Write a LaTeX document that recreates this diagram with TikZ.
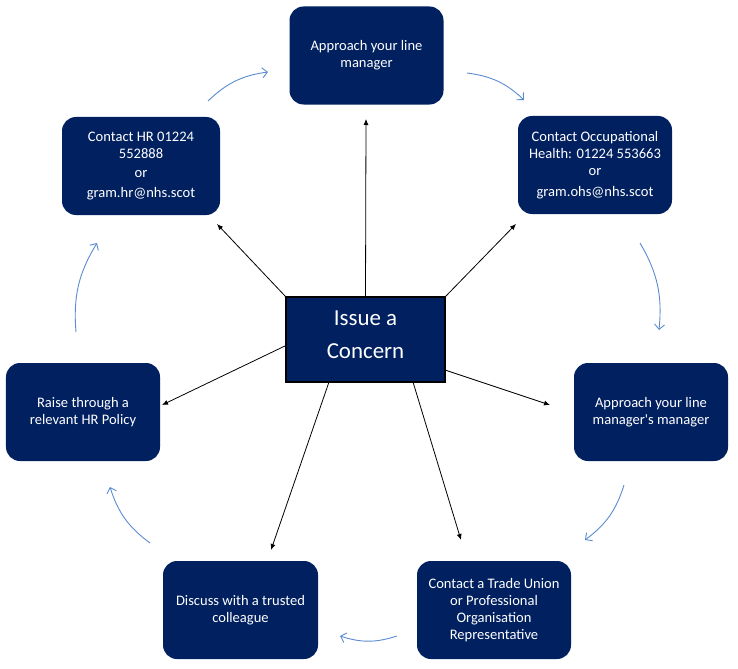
\documentclass[tikz,border=0pt]{standalone}
\usepackage{fontspec}
\setmainfont{Carlito}
\usetikzlibrary{arrows.meta}
\definecolor{navy}{HTML}{002060}
\definecolor{cyc}{HTML}{5B8BD0}
\begin{document}
\begin{tikzpicture}[x=1bp,y=-1bp,
  box/.style={fill=navy, rounded corners=14bp, minimum width=154bp, minimum height=98bp,
    text=white, align=center, font=\fontsize{14.6}{17}\selectfont, inner sep=0pt},
  centrebox/.style={fill=navy, draw=black, line width=1.2bp, minimum width=159bp, minimum height=85bp, inner sep=0pt},
  centretext/.style={text=white, align=center, font=\fontsize{23}{33}\selectfont, inner sep=0pt},
  spoke/.style={draw=black, line width=0.8bp, -{Latex[length=6bp,width=5bp]}},
  cycle/.style={draw=cyc, line width=0.9bp, -{Straight Barb[length=5bp,width=10bp]}, bend left=18}]
\useasboundingbox (0,0) rectangle (738,669);

\node[box] (top) at (366.5,55.5) {Approach your line\\manager};
\node[box, minimum width=158bp] (hr) at (141,166) {Contact HR 01224\\552888\\[2bp]or\\[3bp]gram.hr@nhs.scot};
\node[box] (oh) at (595,165) {Contact Occupational\\Health: 01224 553663\\or\\[4bp]gram.ohs@nhs.scot};
\node[box] (mm) at (651,412) {Approach your line\\manager\textquotesingle s manager};
\node[box] (tu) at (494,610) {Contact a Trade Union\\or Professional\\Organisation\\Representative};
\node[box, minimum width=155bp] (dc) at (240.5,610) {Discuss with a trusted\\colleague};
\node[box] (hp) at (83,412) {Raise through a\\relevant HR Policy};
\node[centrebox] (c) at (365.5,339.5) {};
\node[centretext] (ct) at (365.5,335) {Issue a\\Concern};

% spoke end points
\coordinate (eTop) at (366,119);
\coordinate (eHR) at (217,224);
\coordinate (eOH) at (516,224);
\coordinate (eHP) at (162,405);
\coordinate (eMM) at (550,405);
\coordinate (eDC) at (271,550);
\coordinate (eTU) at (461,540);
\coordinate (sHP) at (287,345);
\coordinate (sMM) at (445,370);
\coordinate (sDC) at (329,382);
\coordinate (sTU) at (413,382);

\draw[spoke] (c.north) -- (eTop);
\draw[spoke] (c.north west) -- (eHR);
\draw[spoke] (c.north east) -- (eOH);
\draw[spoke] (sHP) -- (eHP);
\draw[spoke] (sMM) -- (eMM);
\draw[spoke] (sDC) -- (eDC);
\draw[spoke] (sTU) -- (eTU);

% cycle arrows
\coordinate (a1) at (208,101); \coordinate (b1) at (268,72);
\coordinate (a2) at (467,73);  \coordinate (b2) at (524,100);
\coordinate (a3) at (640,243); \coordinate (b3) at (659,330);
\coordinate (a4) at (624,485); \coordinate (b4) at (585,540);
\coordinate (a5) at (397,636); \coordinate (b5) at (340,636);
\coordinate (a6) at (150,543); \coordinate (b6) at (110,487);
\coordinate (a7) at (76,332);  \coordinate (b7) at (97,243);

\draw[cycle] (a1) to (b1);
\draw[cycle] (a2) to (b2);
\draw[cycle] (a3) to (b3);
\draw[cycle] (a4) to (b4);
\draw[cycle] (a5) to (b5);
\draw[cycle] (a6) to (b6);
\draw[cycle] (a7) to (b7);
\end{tikzpicture}
\end{document}
